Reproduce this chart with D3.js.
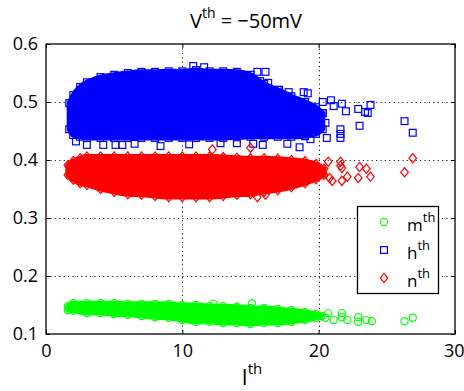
<!DOCTYPE html>
<html>
<head>
<meta charset="utf-8">
<script src="https://cdn.jsdelivr.net/npm/d3@7/dist/d3.min.js"></script>
<style>
  html, body { margin: 0; padding: 0; background: #fff; }
  svg { display: block; }
  text { font-family: "Open Sans", "DejaVu Sans", sans-serif; fill: #000; }
</style>
</head>
<body>
<svg id="chart" width="464" height="391"></svg>
<script>
// Axis ticks
const xTicks = [0, 10, 20, 30];
const yTicks = [0.1, 0.2, 0.3, 0.4, 0.5, 0.6];

// Dense core of each cloud: x samples with lower / upper edge of the markers
const mEnvX   = [1.6, 2, 3, 4, 5, 6, 7, 8, 9, 10, 11, 12, 13, 14, 15, 16, 17, 18, 19, 19.8, 20.2];
const mEnvTop = [0.148, 0.153, 0.153, 0.153, 0.153, 0.152, 0.152, 0.152, 0.152, 0.150, 0.150, 0.148, 0.148, 0.147, 0.145, 0.145, 0.143, 0.141, 0.138, 0.134, 0.131];
const mEnvBot = [0.141, 0.140, 0.136, 0.136, 0.134, 0.133, 0.131, 0.129, 0.128, 0.124, 0.121, 0.121, 0.119, 0.119, 0.117, 0.119, 0.119, 0.121, 0.124, 0.128, 0.131];

const hEnvX   = [1.7, 2, 2.5, 3, 4, 5, 6, 7, 8, 9, 10, 11, 12, 13, 14, 15, 16, 17, 18, 19, 19.8, 20.3];
const hEnvTop = [0.498, 0.512, 0.526, 0.534, 0.543, 0.547, 0.550, 0.552, 0.552, 0.553, 0.553, 0.555, 0.553, 0.553, 0.552, 0.547, 0.531, 0.521, 0.510, 0.500, 0.491, 0.481];
const hEnvBot = [0.453, 0.443, 0.440, 0.438, 0.438, 0.438, 0.438, 0.438, 0.438, 0.438, 0.438, 0.438, 0.438, 0.438, 0.439, 0.440, 0.440, 0.440, 0.440, 0.441, 0.445, 0.453];

const nEnvX   = [1.6, 2, 2.5, 3, 4, 5, 6, 7, 8, 9, 10, 11, 12, 13, 14, 15, 16, 17, 18, 19, 19.8, 20.4];
const nEnvTop = [0.391, 0.398, 0.403, 0.406, 0.406, 0.406, 0.406, 0.406, 0.406, 0.406, 0.406, 0.406, 0.406, 0.405, 0.404, 0.403, 0.403, 0.402, 0.400, 0.398, 0.393, 0.385];
const nEnvBot = [0.374, 0.366, 0.360, 0.357, 0.350, 0.345, 0.341, 0.340, 0.338, 0.336, 0.336, 0.336, 0.336, 0.338, 0.340, 0.341, 0.345, 0.348, 0.353, 0.360, 0.367, 0.374];

// Sparse points outside the dense cores
const mPtsX = [21.1, 21.7, 21.7, 22.1, 22.9, 22.9, 23.5, 23.9, 26.3, 26.9, 15.1, 20.7, 20.5, 12.3];
const mPtsY = [0.124, 0.136, 0.129, 0.124, 0.129, 0.121, 0.124, 0.122, 0.122, 0.128, 0.153, 0.136, 0.128, 0.152];

const hPtsX = [10.8, 11.6, 15.5, 16.1, 15.7, 16.3, 17.1, 17.8, 18.9, 19.2, 20.3, 20.9, 21.1, 21.7, 22.0, 22.9, 23.4, 23.6, 23.8, 23.0, 26.3, 26.9, 20.6, 21.6, 21.6, 21.6, 20.5, 20.3, 17.7, 18.6, 19.4, 3.0, 4.2, 5.1, 5.6, 8.4, 12.8, 15.2, 15.9, 2.2, 6.5, 10.5, 14.0];
const hPtsY = [0.562, 0.560, 0.552, 0.552, 0.536, 0.533, 0.521, 0.517, 0.517, 0.515, 0.500, 0.503, 0.493, 0.497, 0.484, 0.488, 0.483, 0.481, 0.495, 0.459, 0.467, 0.447, 0.438, 0.453, 0.438, 0.445, 0.464, 0.481, 0.428, 0.422, 0.436, 0.426, 0.426, 0.426, 0.426, 0.424, 0.429, 0.428, 0.426, 0.432, 0.428, 0.427, 0.429];

const nPtsX = [20.7, 21.6, 21.6, 21.7, 23.0, 23.5, 23.8, 22.9, 22.1, 21.7, 21.0, 20.8, 26.9, 26.3, 15.5, 16.1, 15.0, 12.2];
const nPtsY = [0.397, 0.397, 0.390, 0.386, 0.388, 0.385, 0.371, 0.369, 0.371, 0.364, 0.364, 0.369, 0.403, 0.379, 0.336, 0.340, 0.421, 0.418];

const seriesNames = ["m", "h", "n"];
const seriesColors = ["#00ff00", "#0000ff", "#ff0000"];

const svg = d3.select("#chart");
const L = 46, R = 455, T = 44, B = 334;
const x = d3.scaleLinear().domain([0, 30]).range([L, R]);
const y = d3.scaleLinear().domain([0.1, 0.6]).range([B, T]);

// Marker shapes
function marker(sel, kind, color) {
  if (kind === "m") {
    sel.append("circle").attr("r", 3.6).attr("fill", "none").attr("stroke", color).attr("stroke-width", 1.2);
  } else if (kind === "h") {
    sel.append("rect").attr("x", -3.4).attr("y", -3.4).attr("width", 6.8).attr("height", 6.8)
      .attr("fill", "none").attr("stroke", color).attr("stroke-width", 1.2);
  } else {
    sel.append("path").attr("d", "M0,-4.6L3.8,0L0,4.6L-3.8,0Z")
      .attr("fill", "none").attr("stroke", color).attr("stroke-width", 1.2);
  }
}

// Grid
const grid = svg.append("g").attr("stroke", "#222").attr("stroke-width", 1).attr("stroke-dasharray", "1.2,3.2");
xTicks.filter(d => d > 0 && d < 30).forEach(d => {
  grid.append("line").attr("x1", Math.round(x(d)) + 0.5).attr("x2", Math.round(x(d)) + 0.5).attr("y1", T).attr("y2", B);
});
yTicks.filter(d => d > 0.1 && d < 0.6).forEach(d => {
  grid.append("line").attr("y1", Math.round(y(d)) + 0.5).attr("y2", Math.round(y(d)) + 0.5).attr("x1", L).attr("x2", R);
});

// Clouds
const clouds = [
  { k: "m", ex: mEnvX, et: mEnvTop, eb: mEnvBot, px: mPtsX, py: mPtsY },
  { k: "h", ex: hEnvX, et: hEnvTop, eb: hEnvBot, px: hPtsX, py: hPtsY },
  { k: "n", ex: nEnvX, et: nEnvTop, eb: nEnvBot, px: nPtsX, py: nPtsY }
];
const plot = svg.append("g");
clouds.forEach(c => {
  const color = seriesColors[seriesNames.indexOf(c.k)];
  const rows = c.ex.map((v, i) => ({ x: v, lo: c.eb[i], hi: c.et[i] }));
  const area = d3.area().x(d => x(d.x)).y0(d => y(d.lo)).y1(d => y(d.hi)).curve(d3.curveMonotoneX);
  plot.append("path").attr("d", area(rows))
    .attr("fill", color).attr("stroke", color).attr("stroke-width", 5).attr("stroke-linejoin", "round");
  const edge = rows.flatMap(d => [{ x: d.x, y: d.hi }, { x: d.x, y: d.lo }]);
  const pts = c.px.map((v, i) => ({ x: v, y: c.py[i] }));
  plot.append("g").selectAll("g").data(edge.concat(pts)).join("g")
    .attr("transform", d => `translate(${x(d.x)},${y(d.y)})`)
    .each(function () { marker(d3.select(this), c.k, color); });
});

// Axes (ticks inside, mirrored on top and right)
const tickFont = 18;
const ax = svg.append("g").attr("transform", `translate(0,${B})`)
  .call(d3.axisBottom(x).tickValues(xTicks).tickFormat(d3.format("d")).tickSizeInner(-4).tickSizeOuter(0).tickPadding(10));
const ay = svg.append("g").attr("transform", `translate(${L},0)`)
  .call(d3.axisLeft(y).tickValues(yTicks).tickFormat(d3.format(".1f")).tickSizeInner(-4).tickSizeOuter(0).tickPadding(8));
const ax2 = svg.append("g").attr("transform", `translate(0,${T})`)
  .call(d3.axisTop(x).tickValues(xTicks).tickFormat("").tickSizeInner(-4).tickSizeOuter(0));
const ay2 = svg.append("g").attr("transform", `translate(${R},0)`)
  .call(d3.axisRight(y).tickValues(yTicks).tickFormat("").tickSizeInner(-4).tickSizeOuter(0));
[ax, ay, ax2, ay2].forEach(g => {
  g.attr("font-family", null).attr("font-size", null);
  g.select(".domain").remove();
  g.selectAll("line").attr("stroke", "#000");
  g.selectAll("text").style("font-size", tickFont + "px").attr("fill", "#000");
});
// keep the last x label inside the canvas edge
ax.selectAll(".tick text").filter(d => d === 30).attr("text-anchor", "end").attr("x", 9);

// Frame
svg.append("rect").attr("x", L).attr("y", T).attr("width", R - L).attr("height", B - T)
  .attr("fill", "none").attr("stroke", "#000").attr("stroke-width", 1.3);

// Title
const title = svg.append("text").attr("x", 246).attr("y", 28).attr("text-anchor", "middle").style("font-size", "20px");
title.append("tspan").text("V");
title.append("tspan").attr("dy", -10).style("font-size", "14px").text("th");
title.append("tspan").attr("dy", 10).text(" = \u221250mV");

// X label
const xl = svg.append("text").attr("x", 252).attr("y", 385).attr("text-anchor", "middle").style("font-size", "21px");
xl.append("tspan").text("I");
xl.append("tspan").attr("dy", -11).style("font-size", "15px").text("th");

// Legend
const lg = svg.append("g");
lg.append("rect").attr("x", 357.5).attr("y", 206.5).attr("width", 81).attr("height", 87)
  .attr("fill", "#fff").attr("stroke", "#000").attr("stroke-width", 1.3);
const rowsY = [222, 250, 278];
seriesNames.forEach((k, i) => {
  const g = lg.append("g").attr("transform", `translate(384,${rowsY[i]})`);
  marker(g, k, seriesColors[i]);
  const t = lg.append("text").attr("x", 407).attr("y", rowsY[i] + 9).style("font-size", "17px");
  t.append("tspan").text(k);
  t.append("tspan").attr("dy", -9).style("font-size", "13px").text("th");
});
</script>
</body>
</html>
